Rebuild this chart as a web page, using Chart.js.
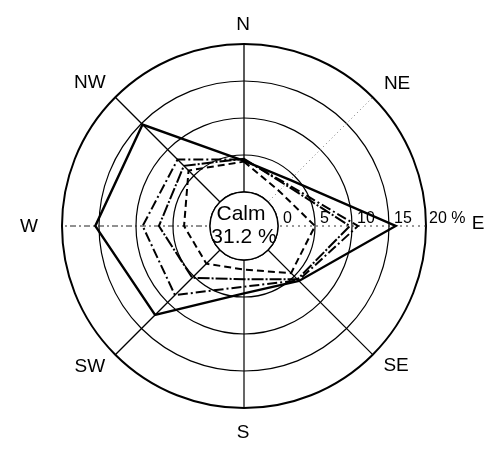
<!DOCTYPE html>
<html>
<head>
<meta charset="utf-8">
<script src="https://cdn.jsdelivr.net/npm/chart.js@4/dist/chart.umd.min.js"></script>
<style>
  html, body { margin: 0; padding: 0; background: #ffffff; }
  canvas { display: block; }
</style>
</head>
<body>
<canvas id="rose" width="492" height="449"></canvas>
<script>
// Wind directions, clockwise from north
const directions = ['N', 'NE', 'E', 'SE', 'S', 'SW', 'W', 'NW'];

// Frequency of wind from each direction (%), one list per speed class
const classSolid      = [4.2, 4.2, 15.9, 5.9, 4.5, 12.4, 15.5, 14.8];
const classDashDot    = [4.4, 3.5, 10.8, 5.8, 3.6, 8.6, 9.1, 8.1];
const classDashDotDot = [4.5, 3.3, 9.7, 5.6, 2.6, 5.3, 6.9, 6.9];
const classDashed     = [4.1, 2.1, 5.0, 4.4, 1.3, 2.6, 3.5, 6.0];

// Ring values and their printed labels
const ringValues = [0, 5, 10, 15, 20];
const ringLabels = ['0', '5', '10', '15', '20 %'];

// Calm share shown in the centre circle
const calmTitle = 'Calm';
const calmValue = '31.2 %';

const FONT = '"Liberation Sans", Arial, sans-serif';

// spoke styles per direction
const spokeDash = [[], [1, 3], [2, 4], [], [], [], [6, 3, 2, 3], []];
const spokeColor = ['#000', '#777', '#333', '#000', '#000', '#000', '#222', '#000'];
const spokeWidth = [1.3, 1, 1, 1.2, 1.2, 1.3, 1, 1.3];

// nudges for the direction names around the rim
const dirNudge = [[-1, 7], [6, 5], [26, -2], [5, -7], [-1, -1], [-7, -6], [-7, 1], [-7, 4]];

const calmPlugin = {
  id: 'calmCircle',
  beforeDatasetsDraw(chart) {
    const s = chart.scales.r;
    const ctx = chart.ctx;
    const r0 = s.getDistanceFromCenterForValue(0);
    ctx.save();
    ctx.beginPath();
    ctx.arc(s.xCenter, s.yCenter, r0, 0, Math.PI * 2);
    ctx.fillStyle = '#fff';
    ctx.fill();
    ctx.lineWidth = 1.4;
    ctx.strokeStyle = '#000';
    ctx.stroke();
    ctx.fillStyle = '#000';
    ctx.textAlign = 'center';
    ctx.textBaseline = 'middle';
    ctx.font = '21px ' + FONT;
    ctx.fillText(calmTitle, s.xCenter - 3, s.yCenter - 12);
    ctx.fillText(calmValue, s.xCenter, s.yCenter + 11);
    ctx.restore();
  },
  afterDraw(chart) {
    const s = chart.scales.r;
    const ctx = chart.ctx;
    ctx.save();
    ctx.fillStyle = '#000';
    // ring labels along the east spoke
    ctx.font = '16px ' + FONT;
    ctx.textAlign = 'left';
    ctx.textBaseline = 'alphabetic';
    ringValues.forEach((v, i) => {
      const d = s.getDistanceFromCenterForValue(v);
      const p = s.getPointPosition(2, d);
      ctx.fillText(ringLabels[i], p.x + (i === 4 ? 3 : 5), p.y - 3);
    });
    // direction names
    ctx.font = '19px ' + FONT;
    ctx.textAlign = 'center';
    ctx.textBaseline = 'middle';
    directions.forEach((name, i) => {
      const p = s.getPointPosition(i, s.drawingArea + 26);
      ctx.fillText(name, p.x + dirNudge[i][0], p.y + dirNudge[i][1]);
    });
    ctx.restore();
  }
};

function series(data, dash, width) {
  return {
    data: data,
    borderColor: '#000',
    borderWidth: width,
    borderDash: dash,
    backgroundColor: 'rgba(0,0,0,0)',
    fill: false,
    pointRadius: 0,
    pointHoverRadius: 0,
    tension: 0
  };
}

new Chart(document.getElementById('rose'), {
  type: 'radar',
  data: {
    labels: directions,
    datasets: [
      series(classSolid, [], 2.4),
      series(classDashDot, [10, 3, 2, 3], 2),
      series(classDashDotDot, [12, 2, 2, 2], 2),
      series(classDashed, [7, 4], 2)
    ]
  },
  options: {
    responsive: false,
    animation: false,
    devicePixelRatio: 1,
    layout: { padding: { left: 62, right: 66, top: 44, bottom: 41 } },
    plugins: {
      legend: { display: false },
      tooltip: { enabled: false }
    },
    elements: { line: { borderJoinStyle: 'miter' } },
    scales: {
      r: {
        min: -4.6,
        max: 20,
        beginAtZero: false,
        afterBuildTicks(scale) {
          scale.ticks = ringValues.map(v => ({ value: v }));
        },
        ticks: { display: false },
        pointLabels: { display: false },
        grid: {
          circular: true,
          color: '#000',
          lineWidth: ctx => (ctx.tick && ctx.tick.value === 20 ? 2 : 1.2)
        },
        angleLines: {
          display: true,
          color: ctx => spokeColor[ctx.index],
          lineWidth: ctx => spokeWidth[ctx.index],
          borderDash: ctx => spokeDash[ctx.index]
        }
      }
    }
  },
  plugins: [calmPlugin]
});
</script>
</body>
</html>
